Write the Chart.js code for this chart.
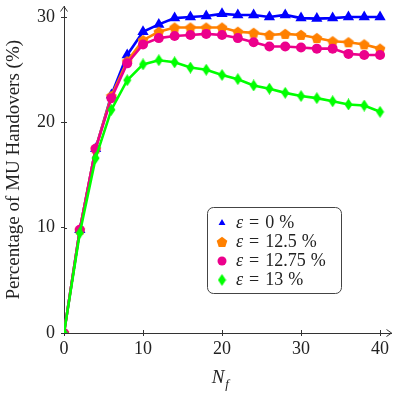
<!DOCTYPE html>
<html>
<head>
<meta charset="utf-8">
<script src="https://cdn.jsdelivr.net/npm/chart.js@4.4.1/dist/chart.umd.min.js"></script>
<style>
  html, body { margin: 0; padding: 0; background: #fff; }
  #wrap { width: 398px; height: 398px; }
</style>
</head>
<body>
<div id="wrap"><canvas id="handoverChart" width="398" height="398"></canvas></div>
<script>
// data
var nf = [0, 2, 4, 6, 8, 10, 12, 14, 16, 18, 20, 22, 24, 26, 28, 30, 32, 34, 36, 38, 40];
var eps0    = [0, 9.8, 17.5, 22.6, 26.4, 28.6, 29.3, 29.9, 30.0, 30.1, 30.3, 30.2, 30.2, 30.0, 30.2, 29.9, 29.85, 29.9, 30.0, 30.0, 30.0];
var eps125  = [0, 9.8, 17.5, 22.5, 25.8, 27.8, 28.6, 29.0, 29.0, 29.0, 29.0, 28.6, 28.5, 28.3, 28.4, 28.3, 28.0, 27.7, 27.6, 27.4, 27.0];
var eps1275 = [0, 9.8, 17.5, 22.3, 25.6, 27.4, 28.0, 28.2, 28.3, 28.4, 28.3, 28.0, 27.6, 27.2, 27.2, 27.1, 27.0, 27.0, 26.5, 26.4, 26.4];
var eps13   = [0, 9.5, 16.6, 21.2, 24.0, 25.5, 25.9, 25.7, 25.2, 25.0, 24.5, 24.1, 23.5, 23.2, 22.8, 22.5, 22.3, 22.0, 21.7, 21.6, 21.0];
var seriesLabels = ["0", "12.5", "12.75", "13"];
var xTicks = [0, 10, 20, 30, 40];
var yTicks = [0, 10, 20, 30];

var blue = "rgb(0,0,255)";
var orange = "rgb(255,128,0)";
var pink = "rgb(236,0,140)";
var green = "rgb(0,255,0)";
var serif = "'Liberation Serif', 'DejaVu Serif', serif";

Chart.defaults.font.family = serif;
Chart.defaults.font.size = 18;
Chart.defaults.color = "#222";

function toPoints(ys) {
  var pts = [];
  for (var i = 0; i < nf.length; i++) {
    pts.push({x: nf[i], y: ys[i]});
  }
  return pts;
}

// marker images for shapes chart.js does not have
function makePentagon(color) {
  var c = document.createElement("canvas");
  c.width = 12; c.height = 12;
  var g = c.getContext("2d");
  g.fillStyle = color;
  g.beginPath();
  for (var k = 0; k < 5; k++) {
    var a = -Math.PI / 2 + k * 2 * Math.PI / 5;
    var px = 6 + 5.6 * Math.cos(a), py = 6.4 + 5.6 * Math.sin(a);
    if (k == 0) g.moveTo(px, py); else g.lineTo(px, py);
  }
  g.closePath();
  g.fill();
  return c;
}
function makeDiamond(color) {
  var c = document.createElement("canvas");
  c.width = 9; c.height = 12;
  var g = c.getContext("2d");
  g.fillStyle = color;
  g.beginPath();
  g.moveTo(4.5, 0); g.lineTo(8.5, 6); g.lineTo(4.5, 12); g.lineTo(0.5, 6);
  g.closePath();
  g.fill();
  return c;
}

function lineSet(label, ys, color, style, radius, order) {
  return {
    label: label,
    data: toPoints(ys),
    borderColor: color,
    backgroundColor: color,
    pointBackgroundColor: color,
    pointBorderColor: color,
    pointBorderWidth: 0,
    pointStyle: style,
    pointRadius: radius,
    borderWidth: 2.6,
    tension: 0,
    fill: false,
    order: order
  };
}

var axisExtras = {
  id: "axisExtras",
  afterDraw: function(chart) {
    var ctx = chart.ctx;
    var a = chart.chartArea;
    var xs = chart.scales.x, ys = chart.scales.y;
    ctx.save();
    ctx.strokeStyle = "#333";
    ctx.lineWidth = 1;
    ctx.beginPath();
    // arrow heads on the axes
    ctx.moveTo(a.left - 3.5, a.top + 5); ctx.lineTo(a.left, a.top); ctx.lineTo(a.left + 3.5, a.top + 5);
    ctx.moveTo(a.right - 5, a.bottom - 3.5); ctx.lineTo(a.right, a.bottom); ctx.lineTo(a.right - 5, a.bottom + 3.5);
    // inner half of the tick marks
    yTicks.forEach(function(v) {
      if (v == 0) return;
      var py = Math.round(ys.getPixelForValue(v)) + 0.5;
      ctx.moveTo(a.left, py); ctx.lineTo(a.left + 3, py);
    });
    xTicks.forEach(function(v) {
      if (v == 0) return;
      var px = Math.round(xs.getPixelForValue(v)) + 0.5;
      ctx.moveTo(px, a.bottom); ctx.lineTo(px, a.bottom - 3);
    });
    ctx.stroke();

    // x axis label N_f
    var cx = (xs.getPixelForValue(0) + xs.getPixelForValue(40)) / 2;
    ctx.fillStyle = "#222";
    ctx.textBaseline = "alphabetic";
    ctx.textAlign = "left";
    ctx.font = "italic 19px " + serif;
    var wN = ctx.measureText("N").width;
    ctx.fillText("N", cx - wN / 2 - 4, 383);
    ctx.font = "italic 13px " + serif;
    ctx.fillText("f", cx + wN / 2 - 3, 388);

    // legend box
    var w = 134, h = 86;
    var x0 = a.right - 50.5 - w, y0 = a.bottom - 40 - h;
    ctx.fillStyle = "#fff";
    ctx.strokeStyle = "#444";
    ctx.beginPath();
    ctx.roundRect(x0 + 0.5, y0 + 0.5, w, h, 6);
    ctx.fill();
    ctx.stroke();
    [0, 1, 2, 3].forEach(function(i) {
      var ds = chart.data.datasets[i];
      var ry = y0 + 16 + i * 19;
      ctx.fillStyle = ds.borderColor;
      ctx.strokeStyle = ds.borderColor;
      Chart.helpers.drawPoint(ctx, {pointStyle: ds.pointStyle, radius: (ds.pointStyle === "triangle" ? 4 : ds.pointStyle === "circle" ? 4.5 : ds.pointRadius), rotation: 0, borderWidth: 0}, x0 + 15, ry);
      ctx.fillStyle = "#222";
      ctx.textBaseline = "middle";
      var tx = x0 + 29;
      ctx.font = "italic 18px " + serif;
      ctx.fillText("\u03b5", tx, ry);
      tx += ctx.measureText("\u03b5").width + 6;
      ctx.font = "18px " + serif;
      ctx.fillText("=", tx, ry);
      tx += ctx.measureText("=").width + 6;
      ctx.fillText(seriesLabels[i], tx, ry);
      tx += ctx.measureText(seriesLabels[i]).width + 5;
      ctx.fillText("%", tx, ry);
    });
    ctx.restore();
  }
};

var datasets = [
  lineSet("\u03b5 = 0 %", eps0, blue, "triangle", 6.5, 3),
  lineSet("\u03b5 = 12.5 %", eps125, orange, makePentagon(orange), 5.5, 2),
  lineSet("\u03b5 = 12.75 %", eps1275, pink, "circle", 5, 1),
  lineSet("\u03b5 = 13 %", eps13, green, makeDiamond(green), 5, 0)
];

var ctx = document.getElementById("handoverChart").getContext("2d");
window.handoverChart = new Chart(ctx, {
  type: "line",
  data: {datasets: datasets},
  options: {
    responsive: false,
    animation: false,
    layout: {padding: {top: 0, right: 0, left: 0, bottom: 0}},
    plugins: {legend: {display: false}, tooltip: {enabled: false}},
    scales: {
      x: {
        type: "linear",
        min: 0,
        max: 41.45,
        afterBuildTicks: function(s) { s.ticks = xTicks.map(function(v) { return {value: v}; }); },
        afterFit: function(s) { s.height = 65; s.paddingLeft = 0; s.paddingRight = 0; },
        grid: {drawOnChartArea: false, drawTicks: true, tickLength: 3, color: "#333"},
        border: {color: "#333", width: 1},
        ticks: {color: "#222", font: {family: serif, size: 18}, padding: 2, maxRotation: 0}
      },
      y: {
        type: "linear",
        min: 0,
        max: 31.0,
        afterBuildTicks: function(s) { s.ticks = yTicks.map(function(v) { return {value: v}; }); },
        afterFit: function(s) { s.width = 64; s.paddingTop = 0; s.paddingBottom = 0; },
        grid: {drawOnChartArea: false, drawTicks: true, tickLength: 3, color: "#333"},
        border: {color: "#333", width: 1},
        ticks: {color: "#222", font: {family: serif, size: 18}, padding: 6},
        title: {display: true, text: "Percentage of MU Handovers (%)", color: "#222", font: {family: serif, size: 19}, padding: {top: 3, bottom: 0}}
      }
    }
  },
  plugins: [axisExtras]
});
</script>
</body>
</html>
